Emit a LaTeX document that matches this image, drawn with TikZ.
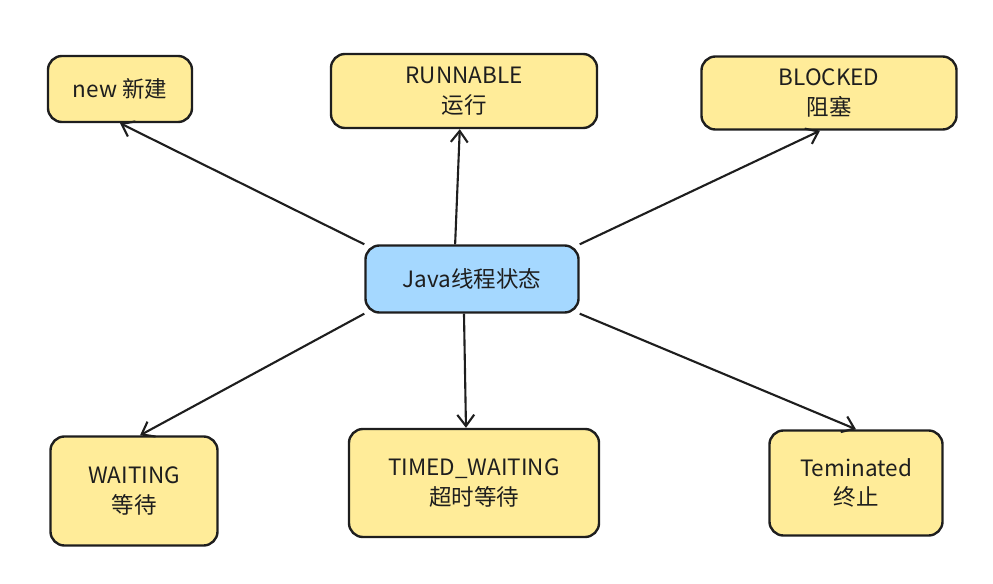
\documentclass[tikz,border=0pt]{standalone}
\usepackage{fontspec}
\setmainfont{Noto Sans CJK SC}
\usepackage{xcolor}
\usepackage{tikz}
\usetikzlibrary{arrows.meta}
\definecolor{ink}{HTML}{1E1E1E}
\definecolor{stateyellow}{HTML}{FFEC99}
\definecolor{stateblue}{HTML}{A5D8FF}

\begin{document}
\begin{tikzpicture}[x=0.025cm,y=-0.025cm]
\tikzstyle{every node}=[font=\fontsize{16}{21}\selectfont, text=ink]
\tikzstyle{state}=[draw=ink, line width=1.7pt, rounded corners=10pt, fill=stateyellow, align=center, inner sep=2pt]
\tikzstyle{link}=[->, >={Straight Barb[length=8pt,width=12pt]}, draw=ink, line width=1.5pt]
\useasboundingbox (0,0) rectangle (993,584);
\node [state, fill=stateblue, minimum width=5.325cm, minimum height=1.675cm] (java) at (472,279) {Java线程状态};
\node [state, minimum width=3.6cm, minimum height=1.65cm] (new) at (120,89) {new 新建};
\node [state, minimum width=6.65cm, minimum height=1.85cm] (run) at (464,91) {RUNNABLE\\运行};
\node [state, minimum width=6.375cm, minimum height=1.825cm] (blocked) at (829,93) {BLOCKED\\阻塞};
\node [state, minimum width=4.175cm, minimum height=2.725cm] (wait) at (134,491) {WAITING\\等待};
\node [state, minimum width=6.25cm, minimum height=2.7cm] (timed) at (474,483) {TIMED\_WAITING\\超时等待};
\node [state, minimum width=4.325cm, minimum height=2.625cm] (term) at (856,483) {Teminated\\终止};
\draw [link] (java.north west) -- (new.south);
\draw [link] ([xshift=-12pt]java.north) -- ([xshift=-3pt]run.south);
\draw [link] (java.north east) -- ([xshift=-6.4pt]blocked.south);
\draw [link] (java.south west) -- ([xshift=4.3pt]wait.north);
\draw [link] ([xshift=-5.7pt]java.south) -- ([xshift=-5.7pt]timed.north);
\draw [link] (java.south east) -- (term.north);
\end{tikzpicture}
\end{document}
